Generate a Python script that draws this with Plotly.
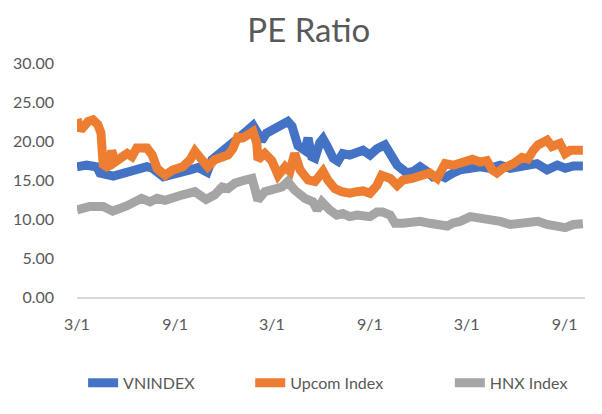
import plotly.graph_objects as go

# ---- data ----
vn_dates = ["2017-03-01","2017-03-19","2017-04-07","2017-04-13","2017-05-08","2017-05-27","2017-06-21",
            "2017-07-10","2017-07-20","2017-08-01","2017-08-10","2017-08-20","2017-09-10","2017-09-29",
            "2017-10-14","2017-10-31","2017-11-09","2017-11-28","2017-12-09","2017-12-27","2018-01-15",
            "2018-01-25","2018-02-01","2018-02-10","2018-02-19","2018-03-13","2018-03-31","2018-04-08",
            "2018-04-13","2018-04-19","2018-05-02","2018-05-08","2018-05-15","2018-05-21","2018-05-30",
            "2018-06-05","2018-06-14","2018-06-24","2018-07-03","2018-07-12","2018-07-25","2018-08-08",
            "2018-08-19","2018-09-01","2018-09-14","2018-09-29","2018-10-09","2018-10-22","2018-11-02",
            "2018-11-09","2018-11-21","2018-12-04","2018-12-17","2018-12-28","2019-01-10","2019-01-20",
            "2019-02-04","2019-02-17","2019-03-08","2019-03-26","2019-04-14","2019-05-03","2019-05-22",
            "2019-06-04","2019-06-22","2019-07-11","2019-07-30","2019-08-18","2019-09-02","2019-09-17",
            "2019-10-05"]
vn_values = [16.7,16.9,16.7,15.9,15.5,15.9,16.4,
             16.7,16.5,15.8,15.4,15.6,16.1,16.3,
             16.6,16.0,17.6,18.6,19.0,20.3,21.4,
             22.0,21.2,20.0,21.0,21.8,22.5,21.9,
             20.1,19.4,18.8,20.4,18.0,17.8,19.8,
             20.3,19.2,17.8,17.4,18.4,18.2,18.4,
             18.8,18.2,19.0,19.5,18.4,16.9,16.3,
             15.9,16.1,16.7,16.1,15.4,15.6,15.3,
             15.9,16.3,16.5,16.7,16.5,16.9,16.5,
             16.7,16.9,17.1,16.3,16.9,16.5,16.8,
             16.8]

up_dates = ["2017-03-01","2017-03-08","2017-03-22","2017-03-31","2017-04-09","2017-04-15","2017-04-19",
            "2017-04-26","2017-05-02","2017-05-05","2017-05-11","2017-05-20","2017-06-03","2017-06-12",
            "2017-06-21","2017-07-10","2017-07-20","2017-07-29","2017-08-13","2017-08-28","2017-09-15",
            "2017-09-29","2017-10-08","2017-10-21","2017-11-01","2017-11-14","2017-11-28","2017-12-09",
            "2017-12-18","2017-12-27","2018-01-06","2018-01-15","2018-01-25","2018-02-01","2018-02-03",
            "2018-02-16","2018-03-01","2018-03-13","2018-03-26","2018-04-04","2018-04-13","2018-04-23",
            "2018-05-08","2018-05-21","2018-06-05","2018-06-14","2018-06-27","2018-07-10","2018-07-25",
            "2018-08-08","2018-08-19","2018-09-01","2018-09-14","2018-09-23","2018-10-09","2018-10-22",
            "2018-11-02","2018-11-19","2018-12-04","2018-12-22","2019-01-05","2019-01-20","2019-02-04",
            "2019-02-17","2019-03-12","2019-03-26","2019-04-08","2019-04-18","2019-04-27","2019-05-08",
            "2019-05-28","2019-06-13","2019-06-24","2019-07-04","2019-07-13","2019-07-30","2019-08-08",
            "2019-08-23","2019-09-02","2019-09-11","2019-09-24","2019-10-05"]
up_values = [22.8,21.4,22.5,22.7,22.1,21.0,17.0,
             16.7,16.9,18.8,17.3,17.7,18.4,18.0,
             19.1,19.1,18.2,16.5,15.6,16.3,16.7,
             17.6,18.7,17.6,16.7,17.6,18.0,18.2,
             19.0,20.5,20.4,20.8,21.2,19.7,17.6,
             18.4,17.5,15.6,16.7,16.1,18.4,16.3,
             15.0,14.8,16.1,15.0,13.9,13.5,13.3,
             13.5,13.6,13.3,14.3,15.6,15.2,14.3,
             15.0,15.2,15.6,15.9,15.2,17.1,16.9,
             17.1,17.65,17.3,17.5,16.3,15.9,16.5,
             17.1,17.9,17.7,18.8,19.5,20.1,19.3,
             19.7,18.4,18.8,18.8,18.8]

hnx_dates = ["2017-03-01","2017-03-25","2017-04-19","2017-05-07","2017-06-03","2017-06-30","2017-07-16",
             "2017-07-29","2017-08-13","2017-08-28","2017-09-15","2017-10-08","2017-10-29","2017-11-14",
             "2017-11-28","2017-12-09","2017-12-22","2018-01-10","2018-01-23","2018-01-29","2018-02-03",
             "2018-02-16","2018-03-07","2018-03-20","2018-03-31","2018-04-13","2018-05-02","2018-05-17",
             "2018-05-25","2018-06-03","2018-06-18","2018-07-01","2018-07-12","2018-07-25","2018-08-08",
             "2018-08-19","2018-09-01","2018-09-14","2018-09-25","2018-10-09","2018-10-18","2018-11-02",
             "2018-11-15","2018-12-04","2018-12-22","2019-01-10","2019-01-24","2019-02-04","2019-02-17",
             "2019-03-08","2019-03-26","2019-04-14","2019-05-03","2019-05-22","2019-06-09","2019-06-28",
             "2019-07-13","2019-07-30","2019-08-18","2019-09-02","2019-09-17","2019-10-05"]
hnx_values = [11.15,11.6,11.6,11.0,11.7,12.65,12.2,
              12.65,12.4,12.85,13.1,13.5,12.5,13.1,
              14.1,13.9,14.6,15.0,15.2,13.7,12.4,
              13.5,13.9,14.1,14.8,13.7,12.65,12.2,
              11.15,12.2,11.15,10.5,10.7,10.3,10.5,
              10.5,10.3,10.9,10.9,10.5,9.45,9.45,
              9.5,9.7,9.45,9.4,9.1,9.5,9.7,
              10.3,10.1,10.1,9.7,9.3,9.4,9.5,
              9.7,9.3,9.1,8.9,9.3,9.4]

x_tick_dates = ["2017-03-01","2017-09-01","2018-03-01","2018-09-01","2019-03-01","2019-09-01"]
x_tick_labels = ["3/1","9/1","3/1","9/1","3/1","9/1"]
y_ticks = [0, 5, 10, 15, 20, 25, 30]

FONT = "Lato"
TXT = "#595959"

series = [("VNINDEX", vn_dates, vn_values, "#4472C4", "legend"),
          ("Upcom Index", up_dates, up_values, "#ED7D31", "legend2"),
          ("HNX Index", hnx_dates, hnx_values, "#A5A5A5", "legend3")]

fig = go.Figure()
for name, xs, ys, col, lg in series:
    fig.add_trace(go.Scatter(x=xs, y=ys, name=name, mode="lines", legend=lg,
                             line=dict(color=col, width=9)))

legend_style = dict(orientation="h", xanchor="left", y=-0.367, yanchor="middle",
                    bgcolor="rgba(0,0,0,0)", font=dict(family=FONT, size=16, color=TXT))

fig.update_layout(
    width=602, height=414,
    margin=dict(l=77, r=17, t=63, b=117, autoexpand=False),
    paper_bgcolor="white", plot_bgcolor="white",
    font=dict(family=FONT, color=TXT, size=16),
    title=dict(text="PE Ratio", x=0.513, xanchor="center", y=0.926, yanchor="middle",
               xref="container", yref="container",
               font=dict(family=FONT, size=33, color=TXT)),
    legend=dict(x=0.012, **legend_style),
    legend2=dict(x=0.341, **legend_style),
    legend3=dict(x=0.734, **legend_style),
    showlegend=True,
)
fig.update_xaxes(type="date", range=["2017-03-01", "2019-10-09"],
                 tickvals=x_tick_dates, ticktext=x_tick_labels, automargin=False,
                 showgrid=False, showline=True, linecolor="#D9D9D9", linewidth=1.5,
                 ticks="", zeroline=False, ticklabelstandoff=12,
                 tickfont=dict(family=FONT, size=16, color=TXT))
fig.update_yaxes(range=[0, 30], tickvals=y_ticks, tickformat=".2f", automargin=False,
                 showgrid=False, zeroline=False, showline=False, ticks="",
                 ticklabelstandoff=22,
                 tickfont=dict(family=FONT, size=16, color=TXT))

fig.write_html("out.html",
               config={"displayModeBar": False},
               post_script="document.body.style.margin='0';document.body.style.padding='0';")
